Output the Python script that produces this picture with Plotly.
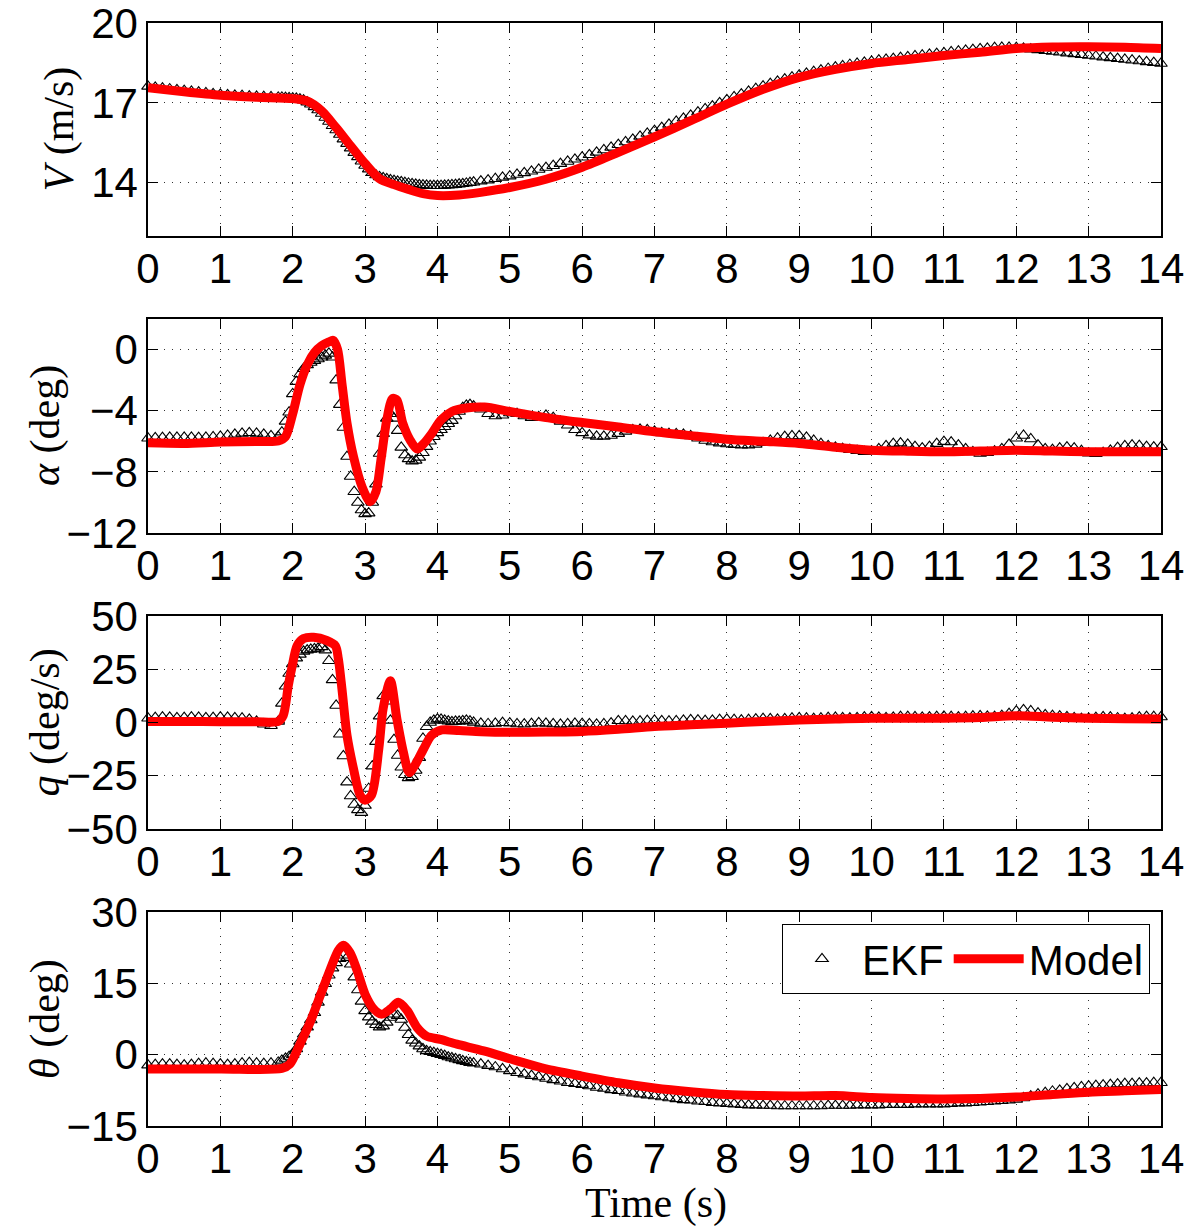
import numpy as np
import plotly.graph_objects as go
from plotly.subplots import make_subplots

# ---------------- data ----------------
# EKF sampling grid (s): 0.1 s steps, 0.05 s steps through the manoeuvre
T_EKF = np.round(np.concatenate([np.arange(0, 1.75, 0.1),
                                 np.arange(1.8, 4.475, 0.05),
                                 np.arange(4.5, 14.05, 0.1)]), 2)

V_EKF = [17.62, 17.58, 17.55, 17.52, 17.49, 17.46, 17.43, 17.40, 17.37, 17.34,
         17.32, 17.30, 17.28, 17.27, 17.25, 17.24, 17.23, 17.22,
         17.21, 17.21, 17.20, 17.19, 17.18, 17.17, 17.14, 17.10, 17.03, 16.95,
         16.85, 16.73, 16.60, 16.45, 16.30, 16.14, 15.98, 15.81, 15.64, 15.47,
         15.30, 15.13, 14.97, 14.81, 14.65, 14.51, 14.38, 14.29, 14.22, 14.18,
         14.14, 14.11, 14.08, 14.05, 14.03, 14.00, 13.98, 13.96, 13.94, 13.92,
         13.91, 13.90, 13.89, 13.89, 13.89, 13.89, 13.90, 13.91, 13.92, 13.93,
         13.95, 13.96, 13.98, 14.00,
         14.02, 14.06, 14.10, 14.15, 14.20, 14.25, 14.31, 14.37, 14.43, 14.50,
         14.57, 14.64, 14.72, 14.80, 14.88, 14.96, 15.05, 15.14, 15.23, 15.33,
         15.43, 15.53, 15.63, 15.74, 15.85, 15.96, 16.07, 16.19, 16.30, 16.42,
         16.53, 16.65, 16.77, 16.88, 17.00, 17.11, 17.22, 17.33, 17.43, 17.53,
         17.63, 17.72, 17.81, 17.89, 17.97, 18.04, 18.11, 18.17, 18.23, 18.29,
         18.34, 18.39, 18.44, 18.48, 18.52, 18.56, 18.60, 18.63, 18.66, 18.70,
         18.73, 18.76, 18.79, 18.82, 18.85, 18.88, 18.91, 18.94, 18.97, 19.00,
         19.03, 19.05, 19.07, 19.08, 19.08, 19.07, 19.05, 19.02, 18.99, 18.96,
         18.93, 18.90, 18.87, 18.84, 18.81, 18.78, 18.75, 18.72, 18.69, 18.66,
         18.63, 18.60, 18.57, 18.54, 18.51, 18.48]

ALPHA_EKF = [-5.80, -5.78, -5.76, -5.75, -5.74, -5.74, -5.75, -5.76, -5.74, -5.72,
             -5.68, -5.62, -5.55, -5.48, -5.45, -5.48, -5.55, -5.65,
             -5.70, -5.40, -4.70, -4.10, -2.90, -2.10, -1.60, -1.25, -1.00, -0.85,
             -0.72, -0.62, -0.50, -0.38, -0.25, -0.50, -2.00, -3.60, -5.10, -7.00,
             -8.30, -9.30, -10.00, -10.50, -10.75, -10.70, -10.00, -8.80, -6.80, -5.50,
             -4.50, -4.20, -4.50, -5.30, -6.40, -6.90, -7.15, -7.30, -7.25, -7.05,
             -6.75, -6.35, -6.00, -5.70, -5.45, -5.25, -5.05, -4.85, -4.65, -4.35,
             -4.05, -3.80, -3.65, -3.60,
             -3.70, -3.90, -4.20, -4.35, -4.30, -4.15, -4.20, -4.35, -4.45, -4.40,
             -4.30, -4.45, -4.70, -4.95, -5.25, -5.45, -5.60, -5.68, -5.68, -5.62,
             -5.50, -5.35, -5.25, -5.22, -5.25, -5.35, -5.45, -5.50, -5.52, -5.55,
             -5.65, -5.80, -5.95, -6.05, -6.12, -6.18, -6.22, -6.25, -6.25, -6.20,
             -6.10, -5.95, -5.80, -5.70, -5.65, -5.65, -5.75, -5.95, -6.15, -6.30,
             -6.40, -6.48, -6.55, -6.62, -6.68, -6.65, -6.50, -6.30, -6.15, -6.12,
             -6.20, -6.35, -6.45, -6.35, -6.15, -6.02, -6.05, -6.25, -6.50, -6.70,
             -6.80, -6.75, -6.65, -6.50, -6.20, -5.80, -5.62, -5.85, -6.25, -6.50,
             -6.55, -6.45, -6.38, -6.45, -6.62, -6.78, -6.82, -6.75, -6.60, -6.42,
             -6.30, -6.25, -6.28, -6.35, -6.38, -6.36]

Q_EKF = [2.0, 2.3, 2.5, 2.4, 2.2, 2.3, 2.5, 2.4, 2.2, 2.3,
         2.5, 2.4, 2.2, 2.0, 1.5, 0.5, -0.8, -1.5,
         0.5, 9.0, 17.0, 23.0, 27.5, 30.2, 32.0, 33.4, 34.0, 34.3,
         34.5, 34.8, 35.5, 34.0, 29.0, 20.0, 8.0, -5.5, -15.7, -28.0,
         -34.5, -38.5, -41.0, -42.3, -39.0, -31.0, -20.5, -9.0, 3.0, 12.5,
         10.0, 1.0, -8.0, -15.5, -21.0, -24.5, -26.0, -25.5, -22.5, -16.5,
         -7.5, -2.0, 0.0, 1.0, 1.6, 1.5, 1.0, 0.6, 0.3, 0.5,
         0.5, 0.8, 1.0, 0.6,
         0.0, -0.4, -0.6, -0.4, -0.1, -0.3, -0.7, -0.8, -0.5, -0.2,
         -0.4, -0.7, -0.9, -0.7, -0.4, -0.5, -0.7, -0.9, -0.7, -0.3,
         0.8, 0.7, 0.5, 0.6, 0.9, 1.0, 0.8, 0.6, 0.7, 1.0,
         1.2, 1.1, 0.9, 1.0, 1.3, 1.5, 1.3, 1.1, 1.3, 1.6,
         1.8, 1.7, 1.5, 1.7, 2.0, 2.2, 2.0, 1.8, 2.0, 2.3,
         2.4, 2.2, 2.0, 2.2, 2.5, 2.6, 2.4, 2.2, 2.4, 2.7,
         2.8, 2.6, 2.4, 2.5, 2.8, 2.9, 2.7, 2.5, 2.7, 3.0,
         3.1, 2.9, 2.8, 3.2, 4.2, 5.3, 5.9, 5.4, 4.4, 3.6,
         3.2, 3.0, 2.6, 2.2, 1.8, 1.9, 2.3, 2.6, 2.5, 2.1,
         1.8, 2.0, 2.5, 2.8, 2.7, 2.6]

THETA_EKF = [-2.2, -2.1, -2.0, -2.0, -2.1, -2.2, -2.1, -1.9, -1.8, -1.9,
             -2.0, -2.1, -2.0, -1.8, -1.7, -1.8, -1.9, -1.8,
             -1.6, -1.2, -0.8, -0.4, 0.0, 1.2, 2.8, 4.3, 5.8, 7.3,
             8.8, 11.0, 13.1, 14.9, 16.7, 18.2, 19.3, 20.2, 20.9, 20.4,
             19.0, 16.3, 13.6, 11.2, 9.2, 7.9, 7.0, 6.3, 5.8, 6.0,
             6.8, 7.8, 8.5, 8.2, 7.4, 5.7, 4.2, 3.0, 2.4, 1.8,
             1.2, 0.8, 0.6, 0.4, 0.2, 0.0, -0.2, -0.5, -0.7, -0.9,
             -1.1, -1.3, -1.5, -1.7,
             -1.8, -2.0, -2.3, -2.6, -3.0, -3.4, -3.8, -4.1, -4.4, -4.7,
             -5.0, -5.3, -5.6, -5.9, -6.1, -6.3, -6.6, -6.9, -7.1, -7.4,
             -7.6, -7.9, -8.1, -8.3, -8.5, -8.7, -8.9, -9.1, -9.3, -9.5,
             -9.6, -9.8, -9.9, -10.1, -10.2, -10.3, -10.4, -10.5, -10.6, -10.6,
             -10.7, -10.7, -10.8, -10.8, -10.8, -10.8, -10.8, -10.8, -10.8, -10.7,
             -10.7, -10.7, -10.7, -10.6, -10.6, -10.6, -10.6, -10.5, -10.5, -10.5,
             -10.5, -10.4, -10.4, -10.4, -10.4, -10.4, -10.3, -10.2, -10.2, -10.1,
             -10.0, -9.9, -9.8, -9.7, -9.6, -9.4, -9.1, -8.7, -8.3, -8.0,
             -7.7, -7.5, -7.2, -7.0, -6.8, -6.6, -6.5, -6.4, -6.3, -6.2,
             -6.1, -6.1, -6.0, -6.0, -5.9, -5.9]

# Model (read at knots, drawn as a smooth line)
T_V_MODEL = [0, 0.5, 1.0, 1.5, 2.0, 2.2, 2.4, 2.6, 2.8, 3.0, 3.2, 3.4, 3.6, 3.8, 4.0,
             4.3, 4.6, 5.0, 5.5, 6.0, 6.5, 7.0, 7.5, 8.0, 8.5, 9.0, 9.5, 10.0, 10.5,
             11.0, 11.5, 12.0, 12.5, 13.0, 13.5, 14.0]
V_MODEL = [17.57, 17.42, 17.29, 17.21, 17.16, 17.07, 16.70, 16.07, 15.39, 14.72,
           14.15, 13.93, 13.75, 13.59, 13.52, 13.54, 13.64, 13.82, 14.13, 14.58,
           15.14, 15.72, 16.33, 16.95, 17.51, 17.96, 18.26, 18.48, 18.63, 18.78,
           18.90, 19.04, 19.10, 19.11, 19.09, 19.04]

T_ALPHA_MODEL = [0, 0.5, 1.0, 1.5, 1.8, 1.9, 2.0, 2.1, 2.2, 2.3, 2.4, 2.5, 2.56, 2.62,
                 2.68, 2.75, 2.84, 2.96, 3.07, 3.15, 3.22, 3.30, 3.38, 3.44, 3.52,
                 3.62, 3.72, 3.82, 3.92, 4.05, 4.2, 4.4, 4.65, 5.0, 5.5, 6.0, 6.5,
                 7.0, 7.5, 8.0, 8.5, 9.0, 9.5, 10.0, 10.5, 11.0, 11.5, 12.0, 12.5,
                 13.0, 13.5, 14.0]
ALPHA_MODEL = [-6.10, -6.14, -6.05, -6.01, -5.98, -5.70, -4.20, -2.30, -1.00, -0.20,
               0.25, 0.50, 0.60, 0.0, -2.2, -4.8, -7.0, -9.0, -9.95, -9.3,
               -7.2, -4.6, -3.2, -3.3, -4.8, -5.9, -6.5, -6.1, -5.5, -4.6,
               -4.05, -3.82, -3.76, -4.05, -4.45, -4.77, -5.07, -5.38, -5.63, -5.86,
               -6.00, -6.14, -6.39, -6.58, -6.65, -6.69, -6.64, -6.58, -6.64, -6.69,
               -6.69, -6.69]

T_Q_MODEL = [0, 0.5, 1.0, 1.5, 1.8, 1.87, 1.94, 1.99, 2.06, 2.15, 2.29, 2.47, 2.59,
             2.63, 2.68, 2.75, 2.84, 2.93, 3.0, 3.09, 3.19, 3.25, 3.35, 3.44, 3.53,
             3.61, 3.69, 3.81, 3.92, 4.06, 4.3, 4.6, 5.0, 5.5, 6.0, 6.5, 7.0, 7.5,
             8.0, 8.5, 9.0, 9.5, 10.0, 10.5, 11.0, 11.5, 12.0, 12.5, 13.0, 13.5, 14.0]
Q_MODEL = [0.5, 0.5, 0.4, 0.4, 0.5, 3.4, 17.5, 26.0, 36.0, 39.4,
           40.0, 38.5, 36.0, 30.0, 15.9, -6.0, -21.7, -34.0, -36.5, -34.0,
           -12.3, 6.6, 19.6, 1.6, -14.0, -23.5, -20.0, -12.3, -6.0, -3.5,
           -3.8, -4.3, -4.6, -4.5, -4.2, -3.2, -1.9, -1.1, -0.3, 0.5,
           1.2, 1.6, 2.0, 2.0, 2.0, 2.3, 3.2, 2.5, 2.0, 1.8, 1.7]

T_THETA_MODEL = [0, 1.0, 1.85, 1.96, 2.10, 2.24, 2.38, 2.52, 2.63, 2.70, 2.79, 2.89,
                 3.0, 3.12, 3.23, 3.35, 3.46, 3.58, 3.72, 3.85, 4.04, 4.27, 4.64,
                 5.1, 5.5, 6.0, 6.5, 7.0, 7.5, 8.0, 8.5, 9.0, 9.5, 10.0, 10.5, 11.0,
                 11.5, 12.0, 12.5, 13.0, 13.5, 14.0]
THETA_MODEL = [-3.0, -3.0, -2.9, -2.0, 2.2, 6.8, 12.4, 18.0, 21.9, 23.0,
               21.5, 17.7, 12.7, 9.6, 8.5, 9.6, 11.0, 9.3, 5.7, 3.9,
               3.2, 2.2, 0.8, -1.3, -3.0, -4.5, -5.9, -7.0, -7.8, -8.4,
               -8.6, -8.7, -8.6, -9.0, -9.2, -9.3, -9.2, -8.9, -8.4, -7.9,
               -7.6, -7.3]

X_TICKS = list(range(0, 15))
Y_TICKS = [[14, 17, 20], [-12, -8, -4, 0], [-50, -25, 0, 25, 50], [-15, 0, 15, 30]]
Y_RANGES = [[12, 20], [-12, 2], [-50, 50], [-15, 30]]
Y_TITLES = ["<i>V</i> (m/s)", "<i>α</i> (deg)", "<i>q</i> (deg/s)", "<i>θ</i> (deg)"]
X_TITLE = "Time (s)"

# ---------------- figure ----------------
W, H = 1191, 1231
ML, MR, MT, MB = 148, 30, 23, 105
PW, PH = W - ML - MR, H - MT - MB

def fy(px):  # pixel row -> paper fraction
    return (H - MB - px) / PH

def fx(px):
    return (px - ML) / PW

panels_px = [(23, 236), (319, 533), (616, 829), (912, 1126)]

fig = make_subplots(rows=4, cols=1)

ekf_series = [V_EKF, ALPHA_EKF, Q_EKF, THETA_EKF]
model_series = [(T_V_MODEL, V_MODEL), (T_ALPHA_MODEL, ALPHA_MODEL),
                (T_Q_MODEL, Q_MODEL), (T_THETA_MODEL, THETA_MODEL)]

for i in range(4):
    fig.add_trace(go.Scatter(
        x=T_EKF, y=ekf_series[i], mode="markers", name="EKF",
        legendgroup="ekf", showlegend=(i == 3), cliponaxis=False,
        marker=dict(symbol="triangle-up-open", size=11, color="black",
                    line=dict(width=1.1, color="black"))), row=i + 1, col=1)
    fig.add_trace(go.Scatter(
        x=model_series[i][0], y=model_series[i][1], mode="lines", name="Model",
        legendgroup="model", showlegend=(i == 3),
        line=dict(color="#ff0000", width=9, shape="spline", smoothing=0.8)),
        row=i + 1, col=1)

tick_font = dict(family="Liberation Sans, Arial, sans-serif", size=42, color="black")
axis_common = dict(showline=True, linecolor="black", linewidth=1.5, mirror="allticks",
                   ticks="inside", ticklen=10, tickwidth=1, tickcolor="black",
                   showgrid=True, gridcolor="#333333", gridwidth=1, griddash="1px,7px",
                   zeroline=False, tickfont=tick_font, automargin=False,
                   ticklabeloverflow="allow")

annotations = []
for i in range(4):
    top, bot = panels_px[i]
    dom = [fy(bot), fy(top)]
    xa = "xaxis" if i == 0 else f"xaxis{i+1}"
    ya = "yaxis" if i == 0 else f"yaxis{i+1}"
    fig.layout[xa].update(domain=[0, 1], range=[0, 14], tickvals=X_TICKS,
                          ticktext=[str(v) for v in X_TICKS],
                          ticklabelstandoff=-5, **axis_common)
    fig.layout[ya].update(domain=dom, range=Y_RANGES[i], tickvals=Y_TICKS[i],
                          ticklabelstandoff=0, **axis_common)
    annotations.append(dict(
        text=Y_TITLES[i], xref="paper", yref="paper",
        x=fx(59 if i == 0 else 45), y=fy((top + bot) / 2),
        xanchor="center", yanchor="middle", textangle=-90, showarrow=False,
        font=dict(family="Liberation Serif, Times New Roman, serif", size=42, color="black")))

annotations.append(dict(
    text=X_TITLE, xref="paper", yref="paper", x=fx(656), y=fy(1203),
    xanchor="center", yanchor="middle", showarrow=False,
    font=dict(family="Liberation Serif, Times New Roman, serif", size=42, color="black")))

fig.update_layout(
    width=W, height=H, autosize=False,
    margin=dict(l=ML, r=MR, t=MT, b=MB, pad=0, autoexpand=False),
    paper_bgcolor="white", plot_bgcolor="white",
    annotations=annotations,
    legend=dict(orientation="h", x=fx(1150), y=fy(924), xanchor="right", yanchor="top",
                bgcolor="white", bordercolor="black", borderwidth=1,
                font=dict(family="Liberation Sans, Arial, sans-serif", size=42, color="black"),
                itemwidth=70, tracegroupgap=0),
)

fig.write_html("out.html")
